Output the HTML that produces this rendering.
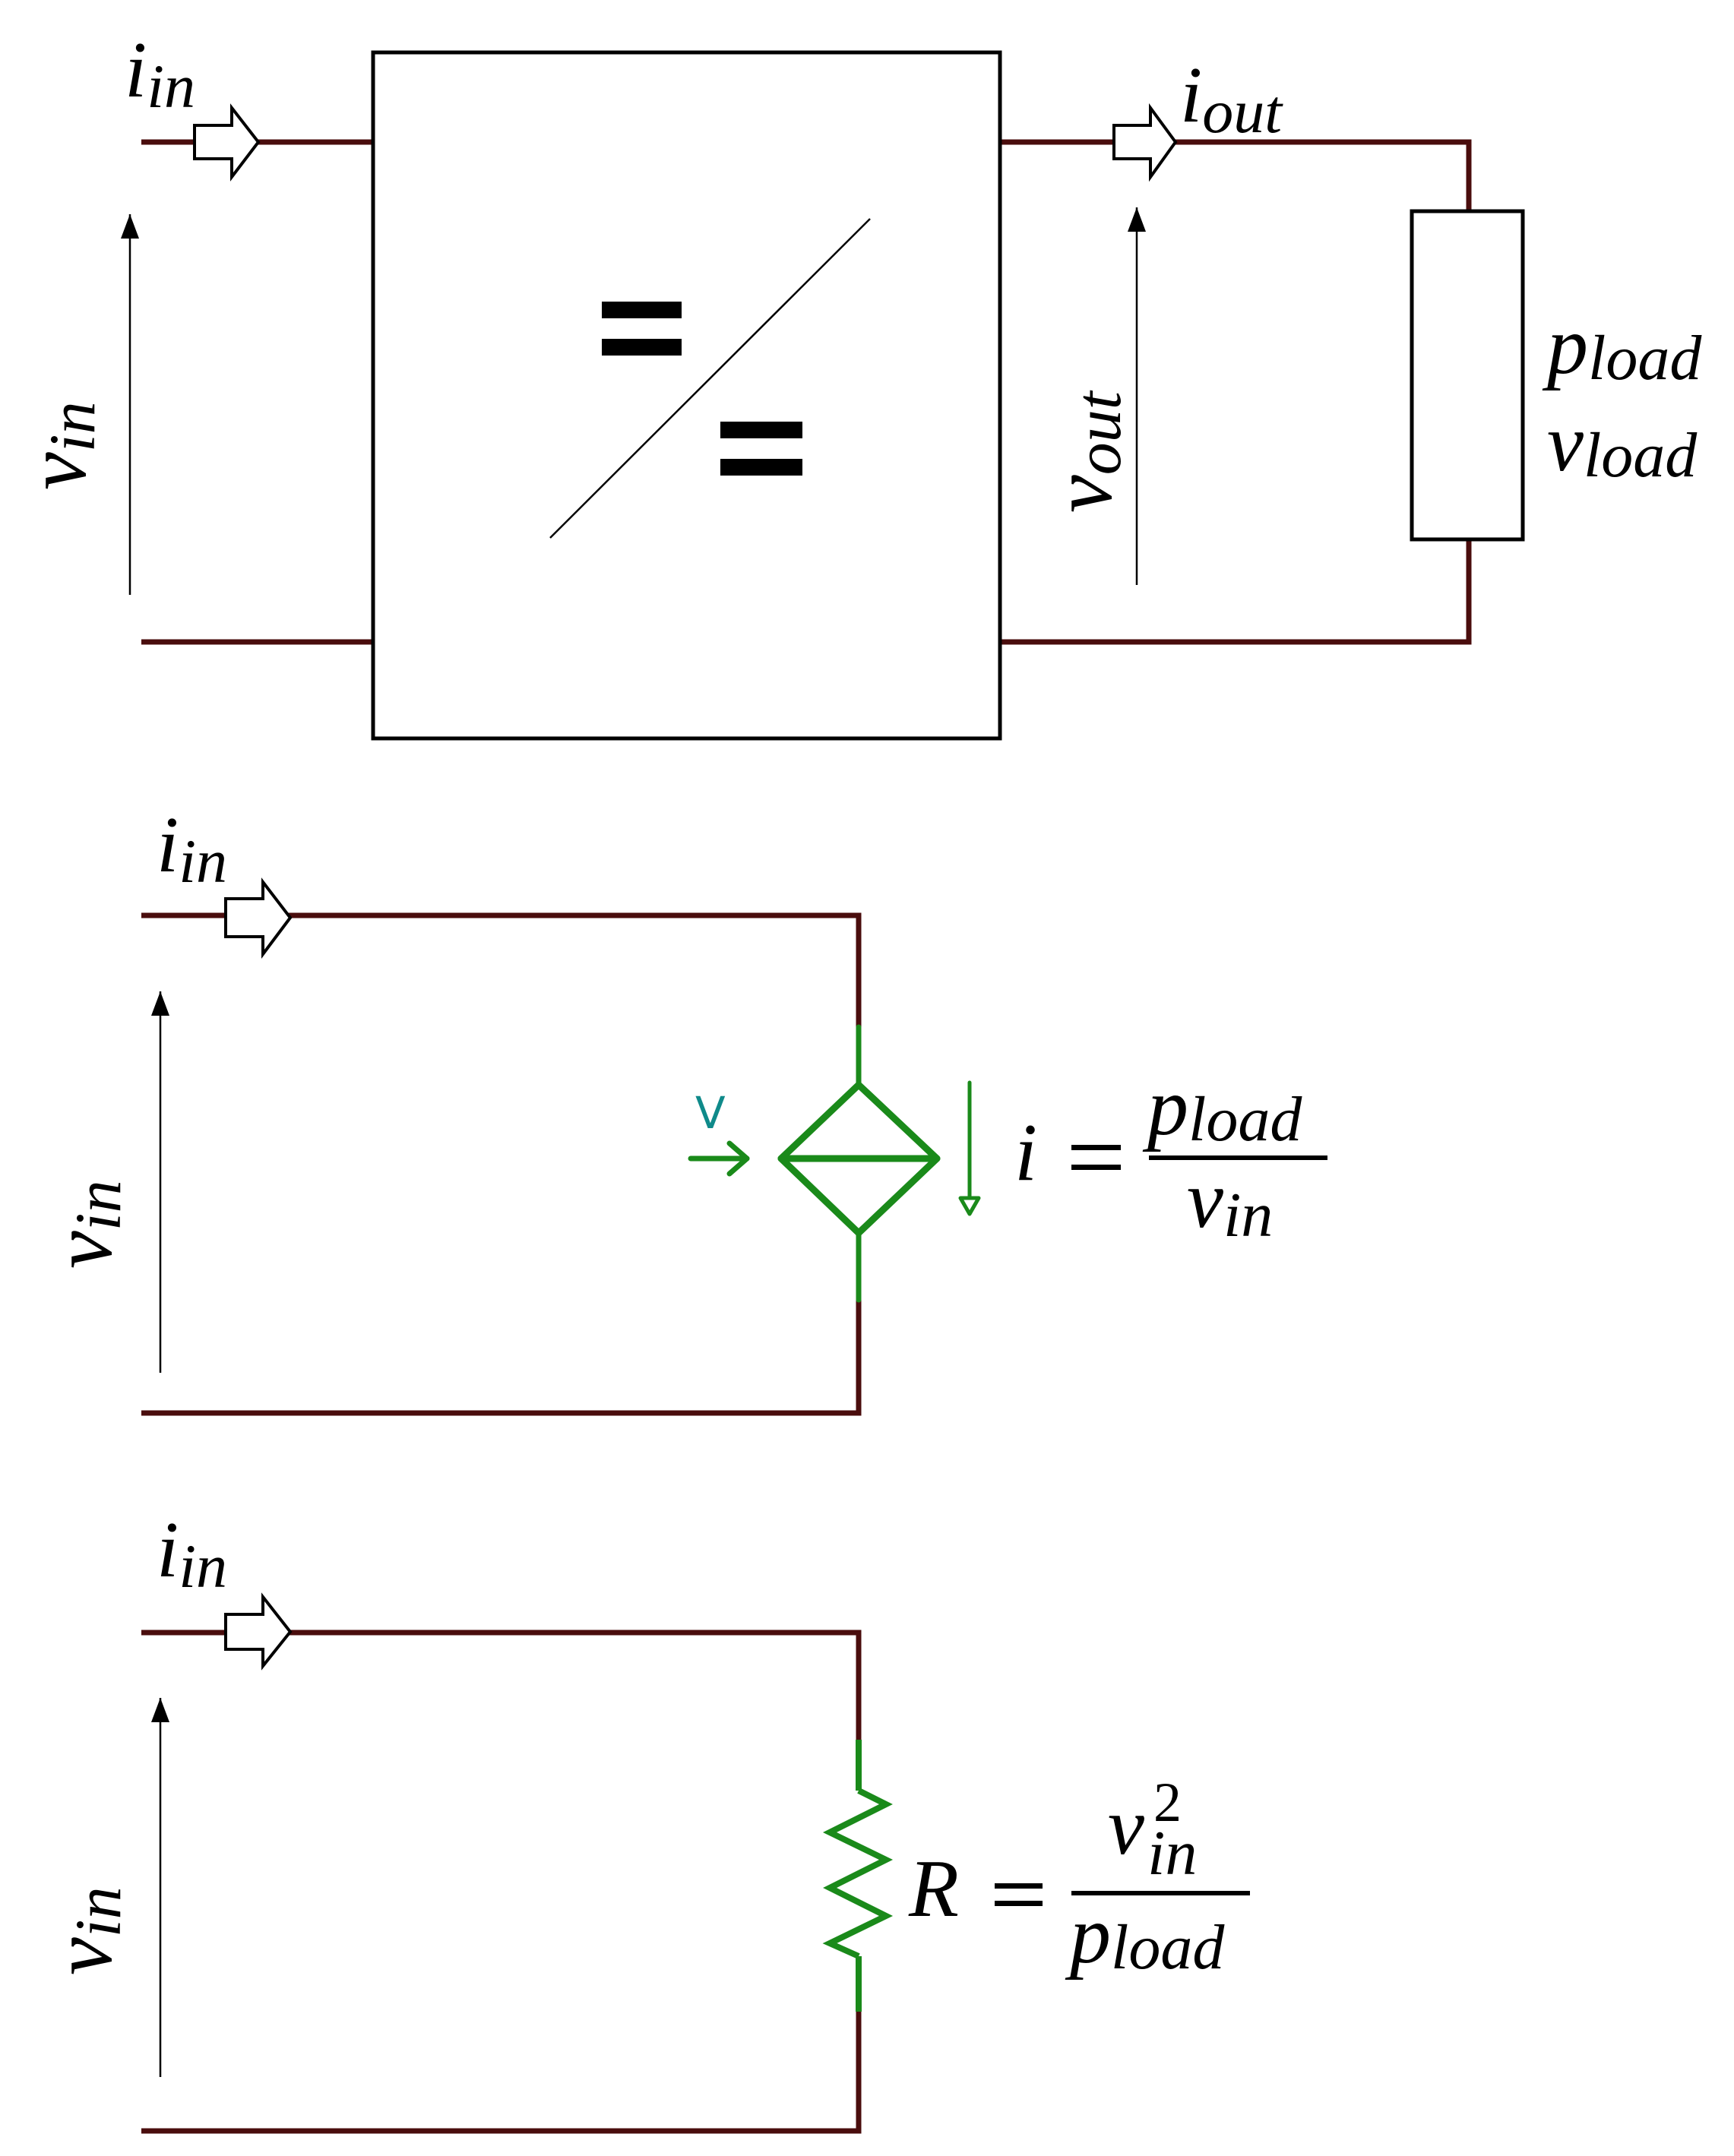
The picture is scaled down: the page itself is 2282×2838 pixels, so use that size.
<!DOCTYPE html>
<html><head><meta charset="utf-8"><style>
html,body{margin:0;padding:0;background:#fff;}
svg{display:block;}
text{font-family:"Liberation Serif",serif;font-style:italic;fill:#000;}
</style></head><body>
<svg width="2282" height="2838" viewBox="0 0 2282 2838" xmlns="http://www.w3.org/2000/svg">
<defs>
<marker id="ah" viewBox="0 0 10 10" refX="10" refY="5" markerWidth="32" markerHeight="24" markerUnits="userSpaceOnUse" orient="auto" preserveAspectRatio="none"><path d="M0,0 L10,5 L0,10 z" fill="#000"/></marker>
</defs>
<g stroke="#4a0d0d" stroke-width="7" fill="none">
<line x1="186" y1="187" x2="491" y2="187"/>
<line x1="186" y1="845" x2="491" y2="845"/>
<polyline points="1316,187 1933,187 1933,278"/>
<polyline points="1316,845 1933,845 1933,710"/>
<polyline points="186,1205 1130,1205 1130,1352"/>
<polyline points="186,1860 1130,1860 1130,1711"/>
<polyline points="186,2149 1130,2149 1130,2290"/>
<polyline points="186,2805 1130,2805 1130,2648"/>
</g>
<rect x="491" y="69" width="825" height="903" fill="#fff" stroke="#000" stroke-width="5"/>
<line x1="724" y1="708" x2="1145" y2="288" stroke="#000" stroke-width="2.5"/>
<rect x="792" y="397" width="105" height="22" fill="#000"/>
<rect x="792" y="446" width="105" height="22" fill="#000"/>
<rect x="948" y="555" width="108" height="22" fill="#000"/>
<rect x="948" y="604" width="108" height="22" fill="#000"/>
<rect x="1858" y="278" width="146" height="432" fill="#fff" stroke="#000" stroke-width="5"/>
<g fill="#fff" stroke="#000" stroke-width="4">
<polygon points="256,165 305,165 305,142 340,187 305,233 305,209 256,209"/>
<polygon points="1466,165 1514,165 1514,142 1547,187 1514,233 1514,209 1466,209"/>
<polygon points="297,1183 346,1183 346,1161 382,1208 346,1256 346,1233 297,1233"/>
<polygon points="297,2125 346,2125 346,2102 382,2148 346,2193 346,2171 297,2171"/>
</g>
<g stroke="#000" stroke-width="2.5" marker-end="url(#ah)">
<line x1="171" y1="783" x2="171" y2="282"/>
<line x1="1496" y1="770" x2="1496" y2="273"/>
<line x1="211" y1="1807" x2="211" y2="1305"/>
<line x1="211" y1="2734" x2="211" y2="2235"/>
</g>
<text x="164" y="127" font-size="105">i<tspan font-size="82" dy="14">in</tspan></text>
<text x="1553" y="160" font-size="105">i<tspan font-size="82" dy="14">out</tspan></text>
<text x="2036" y="491" font-size="108">p<tspan font-size="84" dy="8">load</tspan></text>
<text x="2036" y="619" font-size="108">v<tspan font-size="84" dy="8">load</tspan></text>
<text transform="translate(112,645) rotate(-90)" font-size="112">v<tspan font-size="86" dy="12">in</tspan></text>
<text transform="translate(1462,675) rotate(-90)" font-size="112">v<tspan font-size="86" dy="12">out</tspan></text>
<text x="206" y="1147" font-size="105">i<tspan font-size="82" dy="14">in</tspan></text>
<text transform="translate(146,1670) rotate(-90)" font-size="112">v<tspan font-size="86" dy="12">in</tspan></text>
<g stroke="#1a8a1a" fill="none" stroke-linecap="round" stroke-linejoin="round">
<line x1="1130" y1="1352" x2="1130" y2="1428" stroke-width="7"/>
<line x1="1130" y1="1623" x2="1130" y2="1711" stroke-width="7"/>
<polygon points="1130,1428 1233,1525 1130,1623 1028,1525" stroke-width="9"/>
<line x1="1028" y1="1525" x2="1233" y2="1525" stroke-width="9"/>
<line x1="909" y1="1525" x2="983" y2="1525" stroke-width="7"/>
<polyline points="960,1505 983,1525 960,1545" stroke-width="7"/>
<line x1="1276" y1="1425" x2="1276" y2="1576" stroke-width="5"/>
<polygon points="1264,1577 1288,1577 1276,1598" stroke-width="5" fill="#fff"/>
</g>
<text x="915" y="1485" font-size="58" style="font-style:normal;font-family:'DejaVu Sans',sans-serif;fill:#0f8a8a">V</text>
<text x="1335" y="1553" font-size="108">i</text>
<rect x="1410" y="1507" width="65" height="7" fill="#000"/>
<rect x="1410" y="1533" width="65" height="7" fill="#000"/>
<rect x="1512" y="1521" width="235" height="6" fill="#000"/>
<text x="1510" y="1493" font-size="108">p<tspan font-size="84" dy="8">load</tspan></text>
<text x="1562" y="1615" font-size="108">v<tspan font-size="84" dy="12">in</tspan></text>
<text x="206" y="2075" font-size="105">i<tspan font-size="82" dy="14">in</tspan></text>
<text transform="translate(146,2600) rotate(-90)" font-size="112">v<tspan font-size="86" dy="12">in</tspan></text>
<g stroke="#1a8a1a" fill="none" stroke-width="8" stroke-linejoin="miter">
<line x1="1130" y1="2290" x2="1130" y2="2357"/>
<polyline points="1130,2357 1166,2375 1092,2412 1166,2448 1092,2485 1166,2522 1092,2558 1130,2575"/>
<line x1="1130" y1="2575" x2="1130" y2="2648"/>
</g>
<text x="1196" y="2522" font-size="108">R</text>
<rect x="1309" y="2479" width="63" height="7" fill="#000"/>
<rect x="1309" y="2502" width="63" height="7" fill="#000"/>
<rect x="1410" y="2489" width="235" height="6" fill="#000"/>
<text x="1458" y="2440" font-size="108">v</text>
<text x="1510" y="2467" font-size="84">in</text>
<text x="1518" y="2397" font-size="74" style="font-style:normal">2</text>
<text x="1408" y="2583" font-size="108">p<tspan font-size="84" dy="8">load</tspan></text>
</svg>
</body></html>
